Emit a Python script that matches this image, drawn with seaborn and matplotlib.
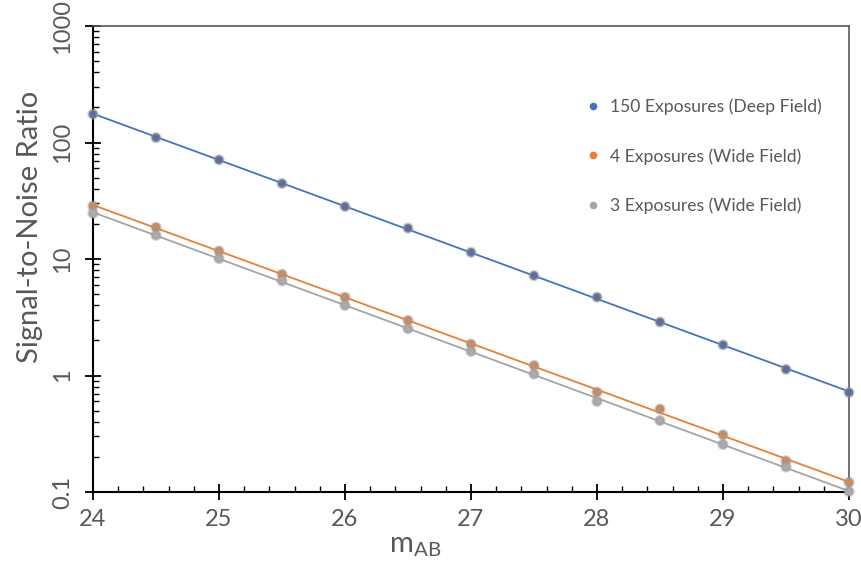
import numpy as np
import pandas as pd
import matplotlib
matplotlib.use("Agg")
import matplotlib.pyplot as plt
from matplotlib.lines import Line2D
from matplotlib.ticker import FixedLocator, NullFormatter, MultipleLocator
import seaborn as sns

# Magnitudes sampled every half magnitude
m_ab = [24.0, 24.5, 25.0, 25.5, 26.0, 26.5, 27.0, 27.5, 28.0, 28.5, 29.0, 29.5, 30.0]

# Signal-to-noise ratio per survey configuration
snr_deep_150 = [175, 110, 71, 44.5, 28.2, 18.4, 11.4, 7.2, 4.7, 2.88, 1.83, 1.13, 0.715]
snr_wide_4 = [28.5, 18.7, 11.7, 7.4, 4.7, 2.97, 1.86, 1.22, 0.72, 0.515, 0.31, 0.185, 0.121]
snr_wide_3 = [24.7, 16.0, 10.1, 6.5, 4.0, 2.52, 1.61, 1.03, 0.60, 0.41, 0.256, 0.164, 0.101]

series_names = [
    "150 Exposures (Deep Field)",
    "4 Exposures (Wide Field)",
    "3 Exposures (Wide Field)",
]
line_colors = ["#4472C4", "#ED7D31", "#A5A5A5"]
dot_colors = ["#5B6E9E", "#D08A5C", "#ABABAB"]

y_ticks = [0.1, 1, 10, 100, 1000]
y_tick_labels = ["0.1", "1", "10", "100", "1000"]
x_ticks = [24, 25, 26, 27, 28, 29, 30]

TEXT = "#595959"

sns.set_theme(style="white")
plt.rcParams["font.family"] = ["Lato", "DejaVu Sans"]
plt.rcParams["mathtext.fontset"] = "custom"
plt.rcParams["mathtext.rm"] = "Lato"
plt.rcParams["mathtext.it"] = "Lato:italic"

points = pd.DataFrame({
    "m": m_ab * 3,
    "snr": snr_deep_150 + snr_wide_4 + snr_wide_3,
    "series": sum([[n] * len(m_ab) for n in series_names], []),
})

# Exponential trend lines (straight on a log axis) fitted to each series
x_fit = np.linspace(m_ab[0], m_ab[-1], 200)
fits = []
for name, vals in zip(series_names, [snr_deep_150, snr_wide_4, snr_wide_3]):
    b, a = np.polyfit(m_ab, np.log10(vals), 1)
    fits.append(pd.DataFrame({"m": x_fit, "snr": 10 ** (a + b * x_fit), "series": name}))
trend = pd.concat(fits, ignore_index=True)

fig = plt.figure(figsize=(8.61, 5.61), dpi=100)
ax = fig.add_axes([93 / 861, 1 - 492 / 561, (849 - 93) / 861, (492 - 26) / 561])

sns.lineplot(data=trend, x="m", y="snr", hue="series", hue_order=series_names,
             palette=line_colors, linewidth=1.3, legend=False, ax=ax, zorder=2)
sns.scatterplot(data=points, x="m", y="snr", hue="series", hue_order=series_names,
                palette=dot_colors, s=40, edgecolor=(0.6, 0.6, 0.6, 0.45), linewidth=1.8,
                legend=False, ax=ax, zorder=3, clip_on=False)

ax.set_yscale("log")
ax.set_xlim(24, 30)
ax.set_ylim(0.1, 1000)

ax.yaxis.set_major_locator(FixedLocator(y_ticks))
ax.set_yticklabels(y_tick_labels, rotation=90, va="center", color=TEXT, fontsize=17)
minors = [k * 10.0 ** e for e in range(-1, 3) for k in range(2, 10)]
ax.yaxis.set_minor_locator(FixedLocator(minors))
ax.yaxis.set_minor_formatter(NullFormatter())

ax.set_xticks(x_ticks)
ax.set_xticklabels([str(t) for t in x_ticks], color=TEXT, fontsize=17)
ax.xaxis.set_minor_locator(MultipleLocator(0.2))

ax.tick_params(axis="both", which="major", direction="inout", length=11, width=1.3,
               color="black", bottom=True, left=True)
ax.tick_params(axis="both", which="minor", direction="in", length=4.5, width=1.0,
               color="black", bottom=True, left=True)
ax.tick_params(axis="x", which="major", pad=7)
ax.tick_params(axis="y", which="major", pad=9)

for side in ["left", "bottom"]:
    ax.spines[side].set_color("black")
    ax.spines[side].set_linewidth(1.5)
for side in ["top", "right"]:
    ax.spines[side].set_color("#595959")
    ax.spines[side].set_linewidth(1.2)
    ax.spines[side].set_visible(True)

ax.set_ylabel("Signal-to-Noise Ratio", fontsize=21, color=TEXT)
ax.yaxis.set_label_coords(-0.066, 0.569)
ax.set_xlabel(r"$\mathrm{m}_{\mathrm{AB}}$", fontsize=21, color=TEXT)
ax.xaxis.set_label_coords(0.426, -0.088)

handles = [Line2D([], [], linestyle="none", marker="o", markersize=4.5,
                  markerfacecolor=c, markeredgecolor=c) for c in line_colors]
ax.legend(handles, series_names, loc="upper left", bbox_to_anchor=(0.652, 0.845),
          frameon=False, fontsize=12.6, labelcolor=TEXT, labelspacing=1.9,
          handlelength=0.8, handletextpad=0.55, borderpad=0, borderaxespad=0)

fig.savefig("out.png", dpi=100)
